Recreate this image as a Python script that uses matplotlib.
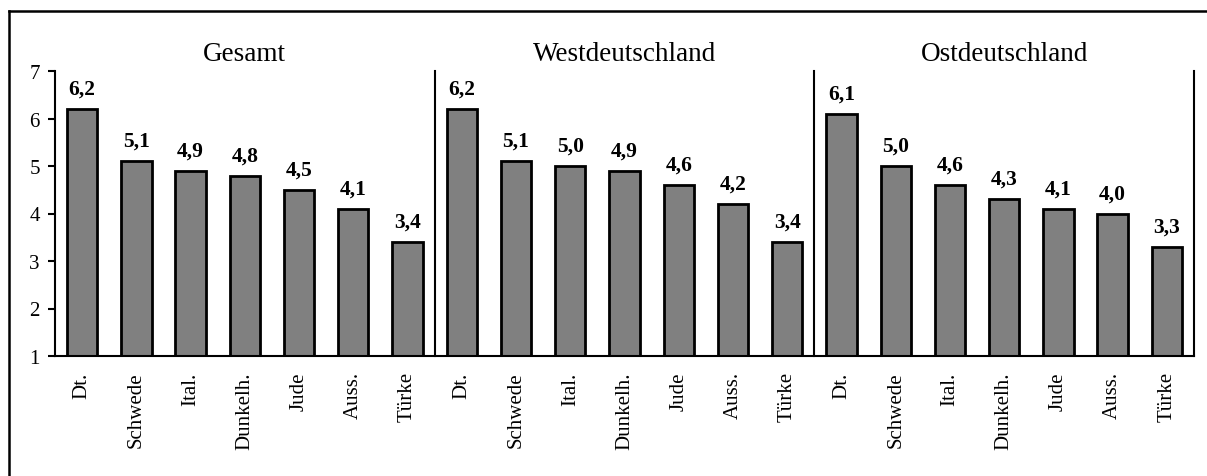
import matplotlib
matplotlib.use("Agg")
import matplotlib.pyplot as plt
from matplotlib.lines import Line2D
import numpy as np

plt.rcParams["font.family"] = ["Liberation Serif", "DejaVu Serif"]

# Daten
gruppen = ["Gesamt", "Westdeutschland", "Ostdeutschland"]
kategorien = ["Dt.", "Schwede", "Ital.", "Dunkelh.", "Jude", "Auss.", "Türke"]
gesamt = [6.2, 5.1, 4.9, 4.8, 4.5, 4.1, 3.4]
west = [6.2, 5.1, 5.0, 4.9, 4.6, 4.2, 3.4]
ost = [6.1, 5.0, 4.6, 4.3, 4.1, 4.0, 3.3]


def init():
    fig = plt.figure(figsize=(12.07, 4.77), dpi=100)
    ax = fig.add_axes([55 / 1207, 1 - 357 / 477, (1194 - 55) / 1207, (357 - 72) / 477])
    return fig, ax


if __name__ == '__main__':
    fig, ax = init()
    werte = gesamt + west + ost
    labels = kategorien * 3
    x = np.arange(len(werte))

    # Balken ab 1 (Skala 1-7)
    ax.bar(x, np.array(werte) - 1, bottom=1, width=0.56, color="#808080",
           edgecolor="black", linewidth=2.0)
    for xi, v in zip(x, werte):
        ax.annotate(("%.1f" % v).replace(".", ","), (xi, v), xytext=(0, 11),
                    textcoords="offset points", ha="center", va="baseline",
                    fontsize=15.5, fontweight="bold")

    # Trennlinien zwischen den Gruppen
    for sx in [6.5, 13.5]:
        ax.plot([sx, sx], [1, 7], color="black", linewidth=1.5, clip_on=False)

    for i, g in enumerate(gruppen):
        ax.text(3 + 7 * i, 1.04, g, transform=ax.get_xaxis_transform(),
                ha="center", va="baseline", fontsize=19.5)

    ax.set_xlim(-0.5, 20.5)
    ax.set_ylim(1, 7)
    ax.set_yticks([1, 2, 3, 4, 5, 6, 7])
    ax.set_xticks(x)
    ax.set_xticklabels(labels, rotation=90, fontsize=15)
    ax.tick_params(axis="x", length=0, pad=11)
    ax.tick_params(axis="y", length=5, width=1.5, pad=6, labelsize=15)
    ax.spines["top"].set_visible(False)
    for s in ["left", "right", "bottom"]:
        ax.spines[s].set_linewidth(1.5)

    # Rahmen um die Abbildung
    fig.add_artist(Line2D([8.5 / 1207, 8.5 / 1207], [0, 1 - 12 / 477], color="black", linewidth=1.8))
    fig.add_artist(Line2D([8.5 / 1207, 1], [1 - 12 / 477, 1 - 12 / 477], color="black", linewidth=1.8))

    fig.savefig("out.png", dpi=100)
